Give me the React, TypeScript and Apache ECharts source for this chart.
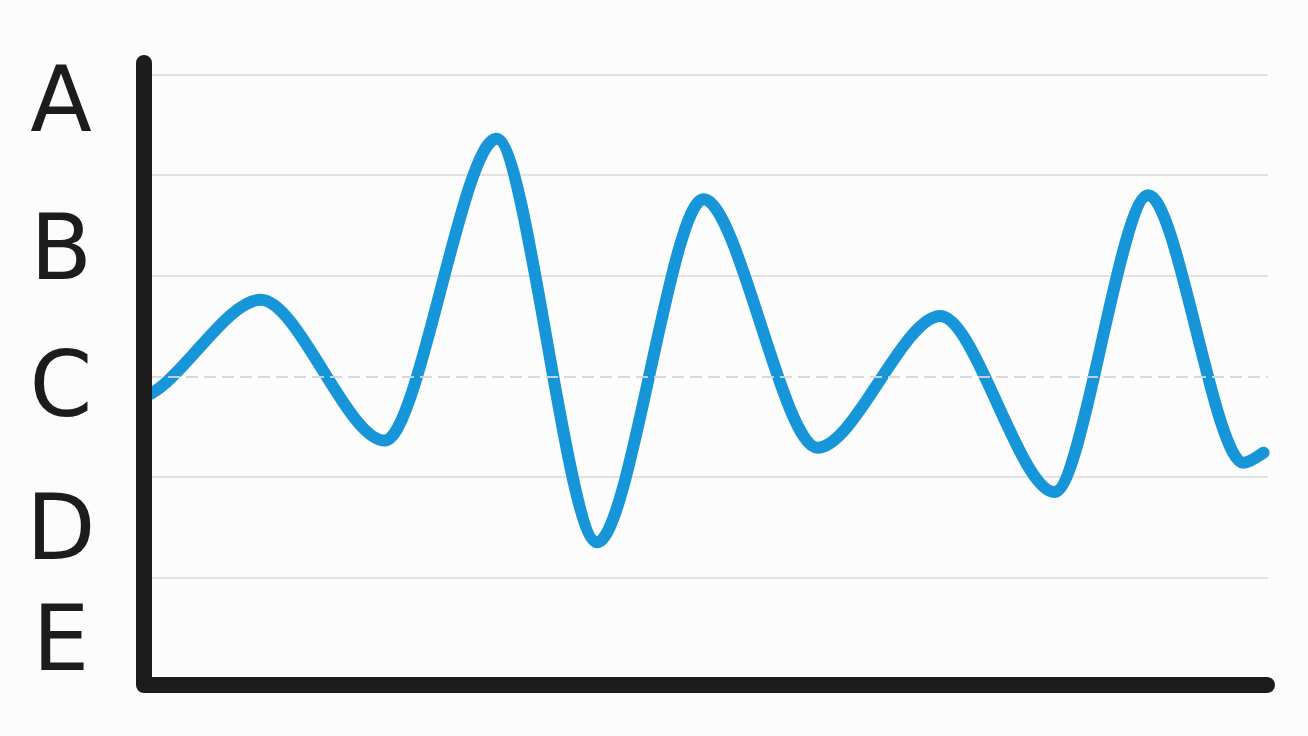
import { useEffect, useRef } from "react";
import * as echarts from "echarts";

// turning points of the wave (x: 0..100, y: grid units 0..6);
// the first two sit left of the y axis, where the curve comes in from, and are clipped
const X_VALUES = [-11, -1.3, 9.9, 21.0, 31.0, 40.0, 49.5, 59.7, 70.7, 80.9, 89.3, 97.8, 99.6];
const Y_VALUES = [3.5, 2.78, 3.76, 2.36, 5.36, 1.35, 4.76, 2.29, 3.6, 1.85, 4.8, 2.14, 2.24];

// letter labels on the left and the level each one sits at
const LEVEL_LABELS = ["A", "B", "C", "D", "E"];
const LEVEL_VALUES = [5.75, 4.28, 2.92, 1.5, 0.39];

const REFERENCE_LEVEL = 3;

const INK = "#1c1c1c";
const BLUE = "#1795d9";
const GRID_GREY = "#e2e2e2";

export default function App() {
  const ref = useRef<HTMLDivElement>(null);

  useEffect(() => {
    const el = ref.current;
    if (!el) return;
    const chart = echarts.init(el, undefined, { renderer: "svg" });
    const points = X_VALUES.map((x, i) => [x, Y_VALUES[i]]);
    const lineColors = [0, 1, 2, 3, 4, 5, 6].map((v) =>
      v === REFERENCE_LEVEL ? "rgba(0,0,0,0)" : GRID_GREY
    );

    chart.setOption({
      animation: false,
      backgroundColor: "#fcfcfc",
      grid: { left: 150, right: 40, top: 74.5, bottom: 58 },
      xAxis: { type: "value", min: 0, max: 100, show: false },
      yAxis: {
        type: "value",
        min: 0,
        max: 6,
        interval: 1,
        axisLine: { show: false },
        axisTick: { show: false },
        splitLine: { show: true, lineStyle: { color: lineColors, width: 2 } },
        axisLabel: {
          customValues: LEVEL_VALUES,
          formatter: (v: number) => {
            let best = 0;
            LEVEL_VALUES.forEach((lv, i) => {
              if (Math.abs(lv - v) < Math.abs(LEVEL_VALUES[best] - v)) best = i;
            });
            return LEVEL_LABELS[best];
          },
          align: "center",
          margin: 89,
          color: INK,
          fontSize: 90,
          fontFamily: "DejaVu Sans",
        },
      },
      graphic: [
        {
          type: "polyline",
          z: 100,
          shape: { points: [[144, 63], [144, 685], [1267, 685]] },
          style: { stroke: INK, lineWidth: 16, lineCap: "round", lineJoin: "round", fill: "none" },
        },
      ],
      series: [
        {
          type: "line",
          data: points,
          clip: true,
          smooth: 0.3,
          smoothMonotone: "x",
          symbol: "none",
          lineStyle: { color: BLUE, width: 12, cap: "round", join: "round" },
          markLine: {
            silent: true,
            symbol: "none",
            label: { show: false },
            lineStyle: { color: "rgba(214,214,214,0.9)", width: 2, type: [12, 6] },
            data: [{ yAxis: REFERENCE_LEVEL }],
          },
        },
      ],
    });

    return () => {
      chart.dispose();
    };
  }, []);

  return (
    <div
      ref={ref}
      style={{ position: "fixed", left: 0, top: 0, width: 1308, height: 736 }}
    />
  );
}
